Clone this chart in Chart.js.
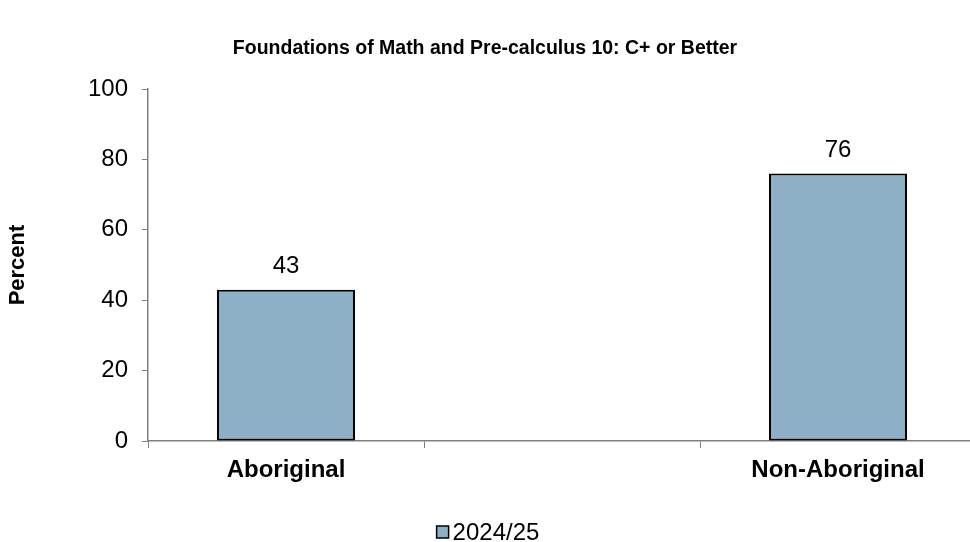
<!DOCTYPE html>
<html>
<head>
<meta charset="utf-8">
<script src="https://cdn.jsdelivr.net/npm/chart.js@4.4.1/dist/chart.umd.min.js"></script>
<style>
  html, body { margin: 0; padding: 0; background: #fff; }
  #wrap { width: 970px; height: 542px; }
</style>
</head>
<body>
<div id="wrap"><canvas id="chart"></canvas></div>
<script>
// chart data
const groups = ['Aboriginal', '', 'Non-Aboriginal'];
const values2425 = [43, null, 76];
const seriesName = '2024/25';
const yTicks = [0, 20, 40, 60, 80, 100];

const FONT = '"Liberation Sans", Arial, sans-serif';
const axisGrey = '#808080';
const barFill = '#8EB0C6';

// the category axis runs a few px past the right edge of the canvas
const widenX = {
    id: 'widenX',
    afterLayout(chart) {
        const x = chart.scales.x;
        x.right += 6;
        x.width += 6;
        x.configure();
    }
};

// draws the value above each bar
const valueLabels = {
    id: 'valueLabels',
    afterDatasetsDraw(chart) {
        const ctx = chart.ctx;
        ctx.save();
        ctx.font = '24px ' + FONT;
        ctx.fillStyle = '#000';
        ctx.textAlign = 'center';
        ctx.textBaseline = 'middle';
        chart.getDatasetMeta(0).data.forEach((bar, i) => {
            const v = values2425[i];
            if (v == null) return;
            ctx.fillText(String(v), bar.x, bar.y - 23);
        });
        ctx.restore();
    }
};

// small legend under the plot, box sits right against the text
const bottomLegend = {
    id: 'bottomLegend',
    afterDraw(chart) {
        const ctx = chart.ctx;
        ctx.save();
        ctx.font = '24px ' + FONT;
        const tw = ctx.measureText(seriesName).width;
        const total = 12 + 4 + tw;
        const x0 = chart.width / 2 + 3 - total / 2;
        const yc = 532;
        ctx.fillStyle = barFill;
        ctx.fillRect(x0, yc - 6, 12, 12);
        ctx.strokeStyle = '#000';
        ctx.lineWidth = 1.5;
        ctx.strokeRect(x0, yc - 6, 12, 12);
        ctx.fillStyle = '#000';
        ctx.textBaseline = 'middle';
        ctx.textAlign = 'left';
        ctx.fillText(seriesName, x0 + 16, yc + 1);
        ctx.restore();
    }
};

new Chart(document.getElementById('chart'), {
    type: 'bar',
    data: {
        labels: groups,
        datasets: [{
            label: seriesName,
            data: values2425,
            backgroundColor: barFill,
            borderColor: '#000',
            borderWidth: 2,
            borderSkipped: false,
            categoryPercentage: 1,
            barPercentage: 0.5
        }]
    },
    options: {
        responsive: true,
        maintainAspectRatio: false,
        animation: false,
        layout: { padding: 0 },
        plugins: {
            title: {
                display: true,
                text: 'Foundations of Math and Pre-calculus 10: C+ or Better',
                color: '#000',
                font: { family: FONT, size: 19.5, weight: 'bold' },
                padding: { top: 37, bottom: 28.6 }
            },
            legend: { display: false },
            tooltip: { enabled: false }
        },
        scales: {
            x: {
                offset: true,
                afterFit(scale) { scale.height = 101; },
                grid: {
                    offset: true,
                    drawOnChartArea: false,
                    drawTicks: true,
                    tickLength: 7,
                    color: axisGrey
                },
                border: { color: axisGrey, width: 1.5 },
                ticks: {
                    color: '#000',
                    font: { family: FONT, size: 24, weight: 'bold' },
                    padding: 8,
                    maxRotation: 0,
                    autoSkip: false
                }
            },
            y: {
                min: 0,
                max: 100,
                afterBuildTicks(scale) {
                    scale.ticks = yTicks.map(v => ({ value: v }));
                },
                afterFit(scale) { scale.width = 148; },
                grid: {
                    drawOnChartArea: false,
                    drawTicks: true,
                    tickLength: 6,
                    color: axisGrey
                },
                border: { color: axisGrey, width: 1.5 },
                ticks: {
                    color: '#000',
                    font: { family: FONT, size: 24 },
                    padding: 14
                },
                title: {
                    display: true,
                    text: 'Percent',
                    color: '#000',
                    font: { family: FONT, size: 22, weight: 'bold' },
                    padding: { top: 5, bottom: 0 }
                }
            }
        }
    },
    plugins: [widenX, valueLabels, bottomLegend]
});
</script>
</body>
</html>
